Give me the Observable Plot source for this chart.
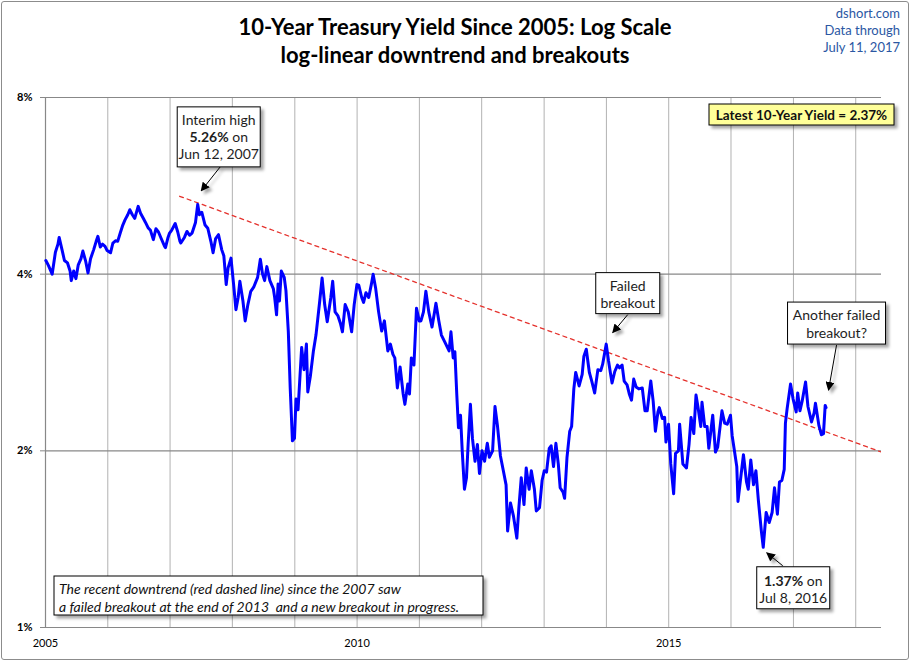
<!DOCTYPE html>
<html><head><meta charset="utf-8">
<script src="https://cdn.jsdelivr.net/npm/d3@7"></script>
<script src="https://cdn.jsdelivr.net/npm/@observablehq/plot@0.6"></script>
<style>
html,body{margin:0;padding:0;background:#fff;}
#wrap{position:relative;width:910px;height:661px;overflow:hidden;background:#fff;}
#wrap svg{display:block;}
.ttl{position:absolute;left:0;width:910px;text-align:center;font-family:Lato,"Open Sans",sans-serif;font-weight:bold;font-size:22px;color:#000;line-height:1;white-space:nowrap;}
.src{position:absolute;right:10px;text-align:right;font-family:Lato,"Open Sans",sans-serif;font-size:13px;color:#2b57a3;line-height:1;white-space:nowrap;}
#frame{position:absolute;left:1px;top:1px;width:906px;height:657px;border:1px solid #8c8c8c;border-radius:3px;pointer-events:none;}
</style></head><body>
<div id="wrap">
<div class="ttl" style="top:16px">10-Year Treasury Yield Since 2005: Log Scale</div>
<div class="ttl" style="top:44px">log-linear downtrend and breakouts</div>
<div class="src" style="top:7px">dshort.com</div>
<div class="src" style="top:24px">Data through</div>
<div class="src" style="top:41px">July 11, 2017</div>
<div id="frame"></div>
</div>
<script>
// ---- data ----
const dates = [
"2005-01-03","2005-01-18","2005-02-09","2005-02-28","2005-03-15","2005-03-22","2005-04-08","2005-04-22","2005-05-10","2005-05-25","2005-06-01","2005-06-15","2005-06-28","2005-07-12","2005-07-28","2005-08-08","2005-08-25","2005-09-07","2005-09-22","2005-10-10","2005-10-25","2005-11-04","2005-11-18","2005-12-01","2005-12-16","2005-12-28",
"2006-01-17","2006-01-31","2006-02-15","2006-02-28","2006-03-15","2006-03-30","2006-04-12","2006-04-28","2006-05-10","2006-05-25","2006-06-08","2006-06-28","2006-07-12","2006-07-28","2006-08-10","2006-08-25","2006-09-08","2006-09-25","2006-10-10","2006-10-25","2006-11-10","2006-11-30","2006-12-05","2006-12-20","2006-12-29",
"2007-01-10","2007-01-31","2007-02-15","2007-02-28","2007-03-05","2007-03-26","2007-04-10","2007-04-25","2007-05-10","2007-05-30","2007-06-12","2007-06-22","2007-07-06","2007-07-25","2007-08-10","2007-08-28","2007-09-10","2007-09-25","2007-10-12","2007-10-31","2007-11-12","2007-11-26","2007-12-07","2007-12-24",
"2008-01-08","2008-01-22","2008-02-04","2008-02-14","2008-03-03","2008-03-16","2008-04-01","2008-04-18","2008-05-05","2008-05-28","2008-06-13","2008-06-26","2008-07-08","2008-07-21","2008-08-08","2008-08-28","2008-09-05","2008-09-16","2008-09-25","2008-10-03","2008-10-14","2008-10-31","2008-11-10","2008-11-24","2008-12-05","2008-12-18","2008-12-30",
"2009-01-08","2009-01-20","2009-02-10","2009-02-24","2009-03-10","2009-03-18","2009-04-02","2009-04-20","2009-05-05","2009-05-27","2009-06-10","2009-06-25","2009-07-10","2009-07-31","2009-08-11","2009-08-25","2009-09-10","2009-09-25","2009-10-07","2009-10-23","2009-11-10","2009-11-30","2009-12-15","2009-12-31",
"2010-01-11","2010-01-28","2010-02-08","2010-02-22","2010-03-10","2010-03-26","2010-04-05","2010-04-20","2010-05-07","2010-05-25","2010-06-10","2010-06-30","2010-07-15","2010-07-30","2010-08-10","2010-08-25","2010-09-10","2010-09-28","2010-10-08","2010-10-25","2010-11-04","2010-11-15","2010-11-30","2010-12-15","2010-12-31",
"2011-01-10","2011-01-25","2011-02-08","2011-02-25","2011-03-16","2011-03-31","2011-04-08","2011-04-25","2011-05-10","2011-05-31","2011-06-24","2011-07-05","2011-07-18","2011-07-28","2011-08-08","2011-08-18","2011-08-30","2011-09-09","2011-09-22","2011-10-04","2011-10-14","2011-10-27","2011-11-08","2011-11-23","2011-12-07","2011-12-19",
"2012-01-03","2012-01-18","2012-02-03","2012-02-15","2012-03-05","2012-03-19","2012-04-03","2012-04-20","2012-05-07","2012-05-23","2012-06-01","2012-06-18","2012-07-05","2012-07-25","2012-08-06","2012-08-20","2012-09-05","2012-09-18","2012-10-05","2012-10-18","2012-11-05","2012-11-16","2012-12-05","2012-12-20",
"2013-01-02","2013-01-15","2013-01-31","2013-02-11","2013-02-25","2013-03-11","2013-03-25","2013-04-05","2013-04-22","2013-05-01","2013-05-15","2013-05-31","2013-06-11","2013-06-24","2013-07-05","2013-07-25","2013-08-12","2013-08-22","2013-09-05","2013-09-23","2013-10-07","2013-10-24","2013-11-12","2013-11-29","2013-12-10","2013-12-31",
"2014-01-13","2014-01-24","2014-02-03","2014-02-19","2014-03-07","2014-03-19","2014-04-03","2014-04-15","2014-05-02","2014-05-15","2014-05-28","2014-06-10","2014-06-24","2014-07-10","2014-07-30","2014-08-15","2014-08-28","2014-09-18","2014-10-02","2014-10-15","2014-10-30","2014-11-07","2014-11-25","2014-12-08","2014-12-16","2014-12-31",
"2015-01-13","2015-01-30","2015-02-10","2015-02-27","2015-03-06","2015-03-25","2015-04-15","2015-04-30","2015-05-12","2015-05-28","2015-06-10","2015-06-22","2015-07-08","2015-07-15","2015-07-31","2015-08-14","2015-08-24","2015-09-16","2015-10-02","2015-10-15","2015-11-09","2015-11-25","2015-12-10","2015-12-29",
"2016-01-08","2016-01-20","2016-02-04","2016-02-11","2016-03-01","2016-03-14","2016-04-01","2016-04-11","2016-04-26","2016-05-12","2016-05-26","2016-06-10","2016-06-27","2016-07-08","2016-07-25","2016-08-12","2016-08-29","2016-09-12","2016-09-29","2016-10-11","2016-10-25","2016-11-08","2016-11-15","2016-11-25","2016-12-15","2016-12-30",
"2017-01-17","2017-01-26","2017-02-08","2017-02-21","2017-03-13","2017-03-27","2017-04-17","2017-05-02","2017-05-10","2017-05-30","2017-06-14","2017-06-26","2017-07-06","2017-07-11"
];
const yields = [
4.22,4.14,4.00,4.36,4.50,4.62,4.40,4.22,4.18,4.05,3.90,4.05,3.93,4.15,4.25,4.38,4.20,4.02,4.25,4.40,4.55,4.64,4.45,4.50,4.46,4.39,
4.35,4.52,4.56,4.55,4.70,4.85,4.95,5.05,5.15,5.05,4.98,5.22,5.08,4.98,4.90,4.80,4.75,4.58,4.78,4.72,4.60,4.46,4.44,4.62,4.70,
4.75,4.88,4.72,4.55,4.52,4.62,4.73,4.66,4.70,4.90,5.26,5.05,5.10,4.85,4.79,4.55,4.35,4.60,4.67,4.40,4.30,3.84,4.10,4.26,
3.85,3.48,3.65,3.89,3.60,3.33,3.55,3.74,3.80,3.95,4.24,4.00,3.90,4.12,3.90,3.78,3.65,3.41,3.85,3.60,4.05,3.95,3.75,3.19,2.56,2.08,2.10,
2.45,2.35,3.00,2.75,3.04,2.52,2.68,2.96,3.15,3.60,3.94,3.55,3.32,3.65,3.89,3.45,3.40,3.30,3.19,3.55,3.45,3.19,3.55,3.84,
3.83,3.65,3.58,3.72,3.65,3.85,4.00,3.78,3.45,3.20,3.33,2.96,3.04,2.92,2.88,2.56,2.78,2.50,2.40,2.60,2.50,2.88,2.80,3.50,3.33,
3.33,3.45,3.74,3.45,3.25,3.45,3.57,3.33,3.15,3.06,2.96,3.19,2.88,2.95,2.50,2.19,2.30,2.00,1.72,1.80,2.06,2.40,2.10,1.92,2.05,1.83,
2.00,1.92,2.06,1.95,2.00,2.38,2.20,1.96,1.85,1.75,1.46,1.63,1.55,1.42,1.60,1.80,1.62,1.87,1.72,1.85,1.72,1.58,1.60,1.78,
1.85,1.84,2.02,2.04,1.88,2.06,1.90,1.73,1.70,1.66,1.95,2.16,2.20,2.55,2.72,2.58,2.70,2.90,2.98,2.72,2.63,2.51,2.75,2.74,2.81,3.04,
2.85,2.72,2.61,2.73,2.80,2.77,2.80,2.63,2.59,2.50,2.44,2.65,2.57,2.55,2.56,2.34,2.34,2.63,2.43,2.16,2.33,2.37,2.27,2.28,2.07,2.22,
1.90,1.69,1.98,2.00,2.22,1.90,1.87,2.05,2.28,2.14,2.49,2.37,2.20,2.42,2.20,2.20,2.02,2.30,1.99,2.03,2.34,2.23,2.22,2.30,
2.12,2.01,1.88,1.64,1.83,1.97,1.77,1.72,1.93,1.75,1.85,1.64,1.46,1.37,1.57,1.51,1.57,1.73,1.56,1.77,1.78,1.86,2.23,2.36,2.60,2.45,
2.33,2.51,2.34,2.43,2.62,2.38,2.24,2.32,2.41,2.21,2.13,2.14,2.39,2.37
];
const trendDates = ["2007-02-26","2018-06-01"];
const trendValues = [5.43, 1.99];
const yTicks = [1, 2, 4, 8];
const xLabelYears = [2005, 2010, 2015];
const gridYears = [2006,2007,2008,2009,2010,2011,2012,2013,2014,2015,2016,2017,2018];
const xDomain = ["2005-01-01","2018-06-01"];
const latestLabel = "Latest 10-Year Yield = 2.37%";
const noteText = ["The recent downtrend (red dashed line) since the 2007 saw",
                  "a failed breakout at the end of 2013  and a new breakout in progress."];
const notes = [
  {date:"2007-06-12", value:5.26, lines:["Interim high","**5.26%** on","Jun 12, 2007"]},
  {date:"2013-12-31", value:3.04, lines:["Failed","breakout"]},
  {date:"2017-07-11", value:2.37, lines:["Another failed","breakout?"]},
  {date:"2016-07-08", value:1.37, lines:["**1.37%** on","Jul 8, 2016"]}
];
// layout of the callouts relative to their anchor point (pixels): box [dx,dy,w,h], arrow [x1,y1,x2,y2], first line offset, line gap
const noteLayout = [
  {box:[-20,-97,83,60], arrow:[23,-37,4,-13], first:12, gap:17},
  {box:[-10,-71,64,41], arrow:[22,-29,7,-11], first:12, gap:17.5},
  {box:[-38,-105,98,42], arrow:[11,-62,3,-17], first:12, gap:18},
  {box:[-6,20,73,42], arrow:[20,19,4,6], first:13, gap:17.5}
];

// ---- build ----
const parse = d3.utcParse("%Y-%m-%d");
const series = dates.map((d, i) => ({date: parse(d), value: yields[i]}));
const trend = trendDates.map((d, i) => ({date: parse(d), value: trendValues[i]}));
const x0 = parse(xDomain[0]);

const plot = Plot.plot({
  width: 910, height: 661,
  marginLeft: 45, marginRight: 29, marginTop: 97, marginBottom: 34,
  style: {fontFamily: "Lato, 'Open Sans', sans-serif", fontSize: "11px", color: "#000", background: "transparent", overflow: "visible"},
  x: {type: "utc", domain: xDomain.map(parse)},
  y: {type: "log", domain: [1, 8]},
  marks: [
    Plot.ruleX(gridYears.map(y => new Date(Date.UTC(y, 0, 1))), {stroke: "#b2b2b2", strokeWidth: 1}),
    Plot.ruleY(yTicks, {stroke: "#888888", strokeWidth: 1.2}),
    Plot.ruleX([x0], {stroke: "#888888", strokeWidth: 1.2}),
    Plot.axisY({ticks: yTicks, tickFormat: d => d + "%", tickSize: 5, tickPadding: 8, stroke: "#888888", fill: "#000", fontWeight: "bold", fontSize: 11, label: null}),
    Plot.axisX({ticks: xLabelYears.map(y => new Date(Date.UTC(y, 0, 1))), tickFormat: d3.utcFormat("%Y"), tickSize: 0, tickPadding: 12, fill: "#000", fontSize: 11, label: null}),
    Plot.line(trend, {x: "date", y: "value", stroke: "#e5322d", strokeWidth: 1.3, strokeDasharray: "4,4", clip: true}),
    Plot.line(series, {x: "date", y: "value", stroke: "#0000ff", strokeWidth: 3, strokeLinejoin: "round"})
  ]
});
document.getElementById("wrap").insertBefore(plot, document.getElementById("frame"));

// ---- callouts ----
const svg = d3.select(plot);
const defs = svg.append("defs");
const f = defs.append("filter").attr("id", "shadow").attr("x", "-20%").attr("y", "-20%").attr("width", "150%").attr("height", "160%");
f.append("feDropShadow").attr("dx", 3).attr("dy", 3).attr("stdDeviation", 1.6).attr("flood-color", "#000").attr("flood-opacity", 0.35);
defs.append("marker").attr("id", "ah").attr("viewBox", "0 0 10 10").attr("refX", 9).attr("refY", 5)
  .attr("markerWidth", 9).attr("markerHeight", 9).attr("markerUnits", "userSpaceOnUse").attr("orient", "auto")
  .append("path").attr("d", "M0,0 L10,5 L0,10 z").attr("fill", "#000");

const sx = plot.scale("x"), sy = plot.scale("y");
const g = svg.append("g").attr("font-family", "Lato, 'Open Sans', sans-serif");

function addLines(t, lines) {
  lines.forEach((ln, i) => {
    const parts = ln.split("**");
    const line = t.append("tspan").attr("x", t.attr("x")).attr("dy", i === 0 ? 0 : t.attr("data-gap"));
    parts.forEach((p, k) => {
      if (!p) return;
      line.append("tspan").attr("font-weight", k % 2 ? "bold" : null).text(p);
    });
  });
}

notes.forEach((n, i) => {
  const L = noteLayout[i];
  const ax = sx.apply(parse(n.date)), ay = sy.apply(n.value);
  const [bx, by, bw, bh] = L.box;
  g.append("line").attr("x1", ax + L.arrow[0]).attr("y1", ay + L.arrow[1]).attr("x2", ax + L.arrow[2]).attr("y2", ay + L.arrow[3])
    .attr("stroke", "#000").attr("stroke-width", 1).attr("marker-end", "url(#ah)").attr("filter", "url(#shadow)");
  g.append("rect").attr("x", ax + bx).attr("y", ay + by).attr("width", bw).attr("height", bh)
    .attr("fill", "#fff").attr("stroke", "#000").attr("stroke-width", 1).attr("filter", "url(#shadow)");
  const t = g.append("text").attr("x", ax + bx + bw / 2).attr("y", ay + by + L.first).attr("data-gap", L.gap)
    .attr("text-anchor", "middle").attr("dominant-baseline", "central").attr("font-size", 14).attr("fill", "#1e1e1e");
  addLines(t, n.lines);
});

// latest yield box (top right of plot)
g.append("rect").attr("x", 709).attr("y", 104).attr("width", 185).attr("height", 21)
  .attr("fill", "#ffff99").attr("stroke", "#000").attr("stroke-width", 1).attr("filter", "url(#shadow)");
g.append("text").attr("x", 801.5).attr("y", 114.5).attr("text-anchor", "middle").attr("dominant-baseline", "central")
  .attr("font-size", 13.5).attr("font-weight", "bold").attr("fill", "#111").text(latestLabel);

// explanatory note (bottom left)
g.append("rect").attr("x", 54).attr("y", 576).attr("width", 429).attr("height", 39)
  .attr("fill", "#fff").attr("stroke", "#000").attr("stroke-width", 1).attr("filter", "url(#shadow)");
const nt = g.append("text").attr("x", 59).attr("y", 587.5).attr("data-gap", 18).attr("dominant-baseline", "central")
  .attr("text-anchor", "start").attr("font-size", 14).attr("font-style", "italic").attr("fill", "#111");
addLines(nt, noteText);
</script>
</body></html>
